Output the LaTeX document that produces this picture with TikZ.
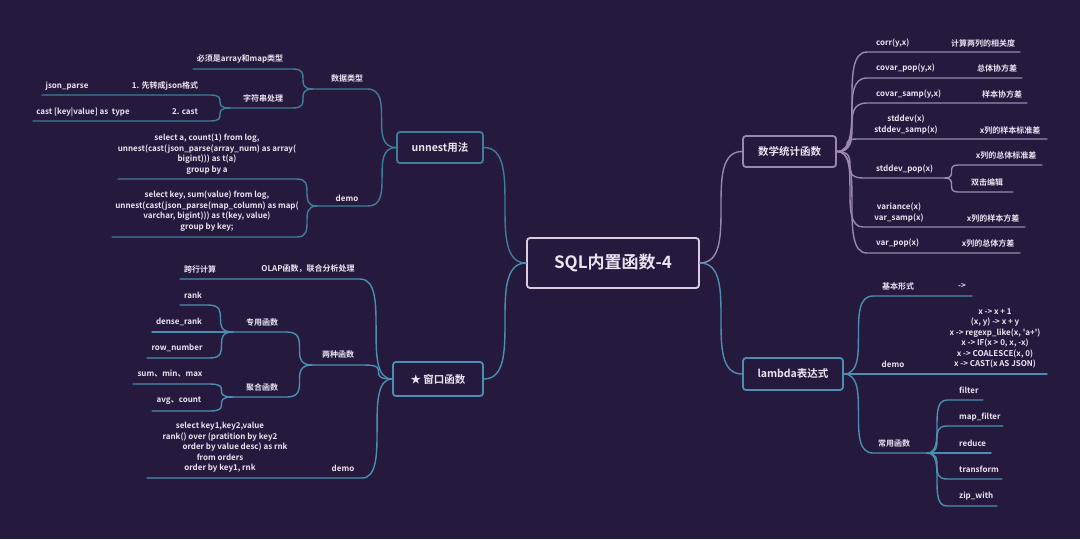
\documentclass[tikz,border=0pt]{standalone}
\usepackage{fontspec}
\setmainfont{Noto Sans CJK SC}[Ligatures=TeXOff, BoldFont={Noto Sans CJK SC Bold}]
\usetikzlibrary{calc}
\definecolor{bg}{HTML}{251A3D}
\definecolor{fg}{HTML}{ECE4F2}
\definecolor{tealA}{HTML}{4A8FB0}
\definecolor{tealB}{HTML}{3F7D99}
\definecolor{mauve}{HTML}{9A88B0}
\definecolor{cbord}{HTML}{DCCBE2}
\begin{document}
\begin{tikzpicture}[x=1pt,y=-1pt,
  sc/.style={to path={let \p1=(\tikztostart), \p2=(\tikztotarget) in .. controls (\x2,\y1) and (\x1,\y2) .. (\tikztotarget)}},
  ln/.style={line width=1.4pt, line cap=round},
  box/.style={draw, rounded corners=3pt, line width=1.8pt, fill=bg, text=fg, font=\bfseries\fontsize{10.5}{12}\selectfont, inner sep=0pt},
  lb/.style={text=fg, font=\bfseries\fontsize{8}{10.5}\selectfont, inner sep=0pt, align=center},
  lw/.style={lb, anchor=west}]
\fill[bg] (0,0) rectangle (1080,539);
\useasboundingbox (0,0) rectangle (1080,539);

% ---------- boxes ----------
\node[box, draw=cbord, minimum width=172pt, minimum height=50pt, font=\bfseries\fontsize{17}{20}\selectfont] (root) at (613,263) {SQL内置函数-4};
\node[box, draw=tealB, minimum width=86pt, minimum height=31pt] (unnest) at (440,147.5) {unnest用法};
\node[box, draw=tealA, minimum width=90pt, minimum height=34pt] (win) at (438,379) {★\ 窗口函数};
\node[box, draw=mauve, minimum width=93pt, minimum height=31pt] (math) at (789.5,151.5) {数学统计函数};
\node[box, draw=tealA, minimum width=100pt, minimum height=32pt] (lam) at (793,374) {lambda表达式};

% ---------- root connections ----------
\draw[ln, tealB] (root.west) to[sc] (unnest.east);
\draw[ln, tealA] (root.west) to[sc] (win.east);
\draw[ln, mauve] (root.east) to[sc] (math.west);
\draw[ln, tealA] (root.east) to[sc] (lam.west);

% ---------- unnest branch ----------
\coordinate (dtR) at (367,89);  \coordinate (J1) at (313,89);
\coordinate (mR) at (293,69);   \coordinate (mL) at (193,69);
\coordinate (sR) at (293,108);  \coordinate (J2) at (230,108);
\coordinate (aR) at (210,95);   \coordinate (aL) at (42,95);
\coordinate (bR) at (210,121);  \coordinate (bL) at (33,121);
\coordinate (udR) at (368,206); \coordinate (J3) at (317,206);
\coordinate (c1R) at (297,179); \coordinate (c1L) at (118,179);
\coordinate (c2R) at (297,237); \coordinate (c2L) at (112,237);
\draw[ln, tealB] (unnest.west) to[sc] (dtR) -- (J1);
\draw[ln, tealB] (J1) to[sc] (mR) -- (mL);
\draw[ln, tealB] (J1) to[sc] (sR) -- (J2);
\draw[ln, tealB] (J2) to[sc] (aR) -- (aL);
\draw[ln, tealB] (J2) to[sc] (bR) -- (bL);
\draw[ln, tealB] (unnest.west) to[sc] (udR) -- (J3);
\draw[ln, tealB] (J3) to[sc] (c1R) -- (c1L);
\draw[ln, tealB] (J3) to[sc] (c2R) -- (c2L);
\node[lb] (t01) at (347,78) {数据类型};
\node[lb] (t02) at (240,59) {必须是array和map类型};
\node[lb] (t03) at (263,98) {字符串处理};
\node[lb] (t04) at (165,86) {1. 先转成json格式};
\node[lb] (t05) at (67,86) {json\_parse};
\node[lb] (t06) at (185,112) {2. cast};
\node[lb] (t07) at (83,112) {cast [key|value] as\ \ type};
\node[lb] (t08) at (347,198) {demo};
\node[lb] (t09) at (207,154) {select a, count(1) from log,\\unnest(cast(json\_parse(array\_num) as array(\\bigint))) as t(a)\\group by a};
\node[lb] (t10) at (207,211) {select key, sum(value) from log,\\unnest(cast(json\_parse(map\_column) as map(\\varchar, bigint))) as t(key, value)\\group by key;};

% ---------- window branch ----------
\coordinate (oR) at (360,279);  \coordinate (oL) at (180,279);
\coordinate (twR) at (365,365); \coordinate (J4) at (312,365);
\coordinate (zyR) at (287,332); \coordinate (J5) at (233,332);
\coordinate (rkR) at (208,305); \coordinate (rkL) at (180,305);
\coordinate (drL) at (152,332);
\coordinate (rnR) at (210,358); \coordinate (rnL) at (147,358);
\coordinate (jhR) at (287,397); \coordinate (J6) at (233,397);
\coordinate (smR) at (210,384); \coordinate (smL) at (133,384);
\coordinate (avR) at (210,411); \coordinate (avL) at (152,411);
\coordinate (wdR) at (362,478); \coordinate (wdL) at (147,478);
\draw[ln, tealA] (win.west) to[sc] (oR) -- (oL);
\draw[ln, tealA] (win.west) to[sc] (twR) -- (J4);
\draw[ln, tealA] (J4) to[sc] (zyR) -- (J5);
\draw[ln, tealA] (J5) to[sc] (rkR) -- (rkL);
\draw[ln, tealA] (J5) -- (drL);
\draw[ln, tealA] (J5) to[sc] (rnR) -- (rnL);
\draw[ln, tealA] (J4) to[sc] (jhR) -- (J6);
\draw[ln, tealA] (J6) to[sc] (smR) -- (smL);
\draw[ln, tealA] (J6) to[sc] (avR) -- (avL);
\draw[ln, tealA] (win.west) to[sc] (wdR) -- (wdL);
\node[lb] (t11) at (308,269) {OLAP函数，联合分析处理};
\node[lb] (t12) at (200,269) {跨行计算};
\node[lb] (t13) at (338,354) {两种函数};
\node[lb] (t14) at (262,322) {专用函数};
\node[lb] (t15) at (193,295) {rank};
\node[lb] (t16) at (179,322) {dense\_rank};
\node[lb] (t17) at (177,348) {row\_number};
\node[lb] (t18) at (262,387) {聚合函数};
\node[lb] (t19) at (170,374) {sum、min、max};
\node[lb] (t20) at (179,401) {avg、count};
\node[lb] (t21) at (343,468) {demo};
\node[lb] (t22) at (220,447.5) {select key1,key2,value\\rank() over (pratition by key2\\\hspace*{30pt}order by value desc) as rnk\\from orders\\order by key1, rnk};

% ---------- math branch ----------
\coordinate (m1L) at (867,52);  \coordinate (m1R) at (1020,52);
\coordinate (m2L) at (867,78);  \coordinate (m2R) at (1022,78);
\coordinate (m3L) at (867,103); \coordinate (m3R) at (1027,103);
\coordinate (m4L) at (857,139); \coordinate (m4R) at (1047,139);
\coordinate (m5L) at (863,178); \coordinate (J7) at (945,178);
\coordinate (m6L) at (958,165); \coordinate (m6R) at (1042,165);
\coordinate (m7L) at (958,192); \coordinate (m7R) at (1013,192);
\coordinate (m8L) at (863,227); \coordinate (m8R) at (1025,227);
\coordinate (m9L) at (867,253); \coordinate (m9R) at (1020,253);
\draw[ln, mauve] (math.east) to[sc] (m1L) -- (m1R);
\draw[ln, mauve] (math.east) to[sc] (m2L) -- (m2R);
\draw[ln, mauve] (math.east) to[sc] (m3L) -- (m3R);
\draw[ln, mauve] (math.east) to[sc] (m4L) -- (m4R);
\draw[ln, mauve] (math.east) to[sc] (m5L) -- (J7);
\draw[ln, mauve] (J7) to[sc] (m6L) -- (m6R);
\draw[ln, mauve] (J7) to[sc] (m7L) -- (m7R);
\draw[ln, mauve] (math.east) to[sc] (m8L) -- (m8R);
\draw[ln, mauve] (math.east) to[sc] (m9L) -- (m9R);
\node[lw] (t23) at (876,43) {corr(y,x)};
\node[lb] (t24) at (983,43) {计算两列的相关度};
\node[lw] (t25) at (876,68) {covar\_pop(y,x)};
\node[lb] (t26) at (997,68) {总体协方差};
\node[lw] (t27) at (876,94) {covar\_samp(y,x)};
\node[lb] (t28) at (1002,94) {样本协方差};
\node[lb] (t29) at (906,124.5) {stddev(x)\\stddev\_samp(x)};
\node[lb] (t30) at (1010,130) {x列的样本标准差};
\node[lw] (t31) at (876,169) {stddev\_pop(x)};
\node[lb] (t32) at (1006,155) {x列的总体标准差};
\node[lb] (t33) at (987,182) {双击编辑};
\node[lb] (t34) at (899,212.5) {variance(x)\\var\_samp(x)};
\node[lb] (t35) at (993,218) {x列的样本方差};
\node[lw] (t36) at (876,243) {var\_pop(x)};
\node[lb] (t37) at (988,243) {x列的总体方差};

% ---------- lambda branch ----------
\coordinate (l1L) at (873,296); \coordinate (l1R) at (972,296);
\coordinate (l2R) at (1047,374);
\coordinate (l3L) at (873,453); \coordinate (J8) at (927,453);
\coordinate (f1L) at (947,400); \coordinate (f1R) at (983,400);
\coordinate (f2L) at (947,426); \coordinate (f2R) at (1003,426);
\coordinate (f3L) at (947,453); \coordinate (f3R) at (991,453);
\coordinate (f4L) at (947,479); \coordinate (f4R) at (1002,479);
\coordinate (f5L) at (947,506); \coordinate (f5R) at (997,506);
\draw[ln, tealA] (lam.east) to[sc] (l1L) -- (l1R);
\draw[ln, tealA] (lam.east) -- (l2R);
\draw[ln, tealA] (lam.east) to[sc] (l3L) -- (J8);
\draw[ln, tealA] (J8) to[sc] (f1L) -- (f1R);
\draw[ln, tealA] (J8) to[sc] (f2L) -- (f2R);
\draw[ln, tealA] (J8) -- (f3R);
\draw[ln, tealA] (J8) to[sc] (f4L) -- (f4R);
\draw[ln, tealA] (J8) to[sc] (f5L) -- (f5R);
\node[lb] (t38) at (898,286) {基本形式};
\node[lb] (t39) at (962,286) {->};
\node[lb] (t40) at (893,364) {demo};
\node[lb] (t41) at (995,338.5) {x -> x + 1\\(x, y) -> x + y\\x -> regexp\_like(x, 'a+')\\x -> IF(x > 0, x, -x)\\x -> COALESCE(x, 0)\\x -> CAST(x AS JSON)};
\node[lb] (t42) at (894,443) {常用函数};
\node[lw] (t43) at (959,390) {filter};
\node[lw] (t44) at (959,417) {map\_filter};
\node[lw] (t45) at (959,443) {reduce};
\node[lw] (t46) at (959,469) {transform};
\node[lw] (t47) at (959,496) {zip\_with};
\end{tikzpicture}
\end{document}
